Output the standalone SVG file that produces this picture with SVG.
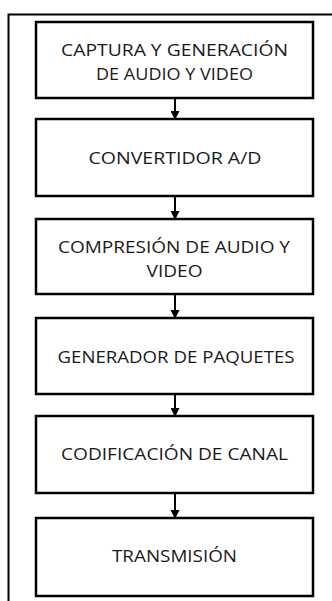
<svg xmlns="http://www.w3.org/2000/svg" width="332" height="601" viewBox="0 0 332 601">
<style>
.box{fill:#fff;stroke:#000;stroke-width:2.5}
.t{font-family:"Open Sans",Lato,sans-serif;font-size:17px;fill:#1a1a1a;text-anchor:middle}
.c{stroke:#000;stroke-width:2;fill:none}
</style>
<defs>
<marker id="ah" markerWidth="9" markerHeight="9" refX="8" refY="4.5" orient="auto" markerUnits="userSpaceOnUse">
<path d="M0,0 L9,4.5 L0,9 Z" fill="#000"/>
</marker>
</defs>
<rect width="332" height="601" fill="#fff"/>
<path d="M8.5,601 V14.5 H332" fill="none" stroke="#000" stroke-width="2"/>
<g id="connectors">
<line class="c" x1="175" y1="98" x2="175" y2="119" marker-end="url(#ah)"/>
<line class="c" x1="175" y1="196" x2="175" y2="219" marker-end="url(#ah)"/>
<line class="c" x1="175" y1="294" x2="175" y2="318" marker-end="url(#ah)"/>
<line class="c" x1="175" y1="394" x2="175" y2="416" marker-end="url(#ah)"/>
<line class="c" x1="175" y1="493" x2="175" y2="518" marker-end="url(#ah)"/>
</g>
<g id="n1"><rect class="box" x="36" y="22" width="277" height="76"/><text class="t" x="174.5" y="56" textLength="227" lengthAdjust="spacingAndGlyphs">CAPTURA Y GENERACIÓN</text><text class="t" x="174.5" y="80" textLength="157" lengthAdjust="spacingAndGlyphs">DE AUDIO Y VIDEO</text></g>
<g id="n2"><rect class="box" x="36" y="119" width="277" height="77"/><text class="t" x="175" y="164" textLength="173" lengthAdjust="spacingAndGlyphs">CONVERTIDOR A/D</text></g>
<g id="n3"><rect class="box" x="36" y="219" width="277" height="75"/><text class="t" x="174" y="253" textLength="232" lengthAdjust="spacingAndGlyphs">COMPRESIÓN DE AUDIO Y</text><text class="t" x="174.5" y="277" textLength="56" lengthAdjust="spacingAndGlyphs">VIDEO</text></g>
<g id="n4"><rect class="box" x="36" y="318" width="277" height="76"/><text class="t" x="176" y="363" textLength="237" lengthAdjust="spacingAndGlyphs">GENERADOR DE PAQUETES</text></g>
<g id="n5"><rect class="box" x="36" y="416" width="277" height="77"/><text class="t" x="174.5" y="460" textLength="227" lengthAdjust="spacingAndGlyphs">CODIFICACIÓN DE CANAL</text></g>
<g id="n6"><rect class="box" x="36" y="518" width="277" height="78"/><text class="t" x="174.5" y="562" textLength="125" lengthAdjust="spacingAndGlyphs">TRANSMISIÓN</text></g>
</svg>
